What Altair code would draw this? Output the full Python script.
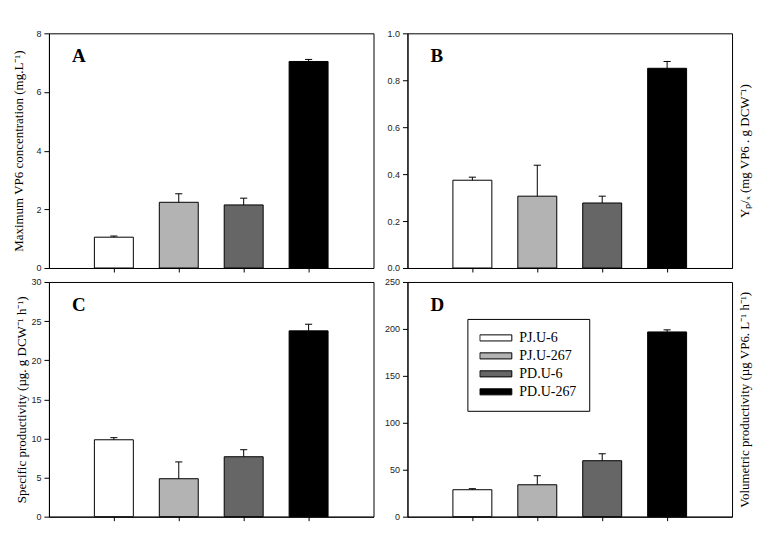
import altair as alt
import pandas as pd

strains = ["PJ.U-6", "PJ.U-267", "PD.U-6", "PD.U-267"]
colors = ["#ffffff", "#b3b3b3", "#666666", "#000000"]
positions = [1, 2, 3, 4]

conc_mean = [1.05, 2.24, 2.15, 7.04]
conc_err = [0.04, 0.29, 0.23, 0.07]
conc_ticks = [0, 2, 4, 6, 8]

ypx_mean = [0.374, 0.306, 0.277, 0.851]
ypx_err = [0.013, 0.132, 0.029, 0.029]
ypx_ticks = [0.0, 0.2, 0.4, 0.6, 0.8, 1.0]

spec_mean = [9.83, 4.85, 7.66, 23.75]
spec_err = [0.27, 2.15, 0.9, 0.85]
spec_ticks = [0, 5, 10, 15, 20, 25, 30]

vol_mean = [28.7, 34.0, 59.6, 196.8]
vol_err = [1.1, 9.6, 7.4, 2.2]
vol_ticks = [0, 50, 100, 150, 200, 250]

W, H = 325, 235


def panel(means, errs, ticks, letter, title, side, title_pad, show_legend=False, fmt=None):
    df = pd.DataFrame({"pos": positions, "strain": strains, "mean": means, "err": errs})
    base = alt.Chart(df).transform_calculate(
        xl="datum.pos - 0.3", xr="datum.pos + 0.3",
        hi="datum.mean + datum.err",
        cl="datum.pos - 0.055", cr="datum.pos + 0.055",
    )
    xscale = alt.Scale(domain=[0, 5], nice=False, zero=False)
    yscale = alt.Scale(domain=[ticks[0], ticks[-1]], nice=False)
    axis_kw = dict(values=ticks, grid=False, tickSize=5, labelPadding=3)
    if fmt:
        axis_kw["format"] = fmt
    if side == "left":
        yaxis = alt.Axis(title=title, titlePadding=title_pad, **axis_kw)
    else:
        yaxis = alt.Axis(title=None, **axis_kw)
    xaxis = alt.Axis(values=positions, labels=False, title=None, grid=False, tickSize=4)
    if show_legend:
        legend = alt.Legend(
            orient="none", legendX=60, legendY=37, title=None,
            symbolType="M-1,-0.19H1V0.19H-1Z", symbolSize=1024,
            symbolStrokeColor="black", symbolStrokeWidth=1, symbolOpacity=1,
            labelFont="Liberation Serif", labelFontSize=14, labelColor="black",
            strokeColor="black", fillColor="white", padding=12,
            clipHeight=14, rowPadding=4, labelOffset=7,
        )
    else:
        legend = None
    bars = base.mark_rect(stroke="black", strokeWidth=1).encode(
        x=alt.X("xl:Q", scale=xscale, axis=xaxis),
        x2="xr:Q",
        y=alt.Y("mean:Q", scale=yscale, axis=yaxis),
        y2=alt.datum(0),
        color=alt.Color("strain:N", scale=alt.Scale(domain=strains, range=colors), legend=legend),
    )
    if side == "right":
        raxis = alt.Axis(orient="right", title=title, labels=False, ticks=False, domain=False,
                         grid=False, titleAngle=270, titleBaseline="top", titlePadding=title_pad)
    else:
        raxis = None
    stem = base.mark_rule(color="black", strokeWidth=1).encode(
        x=alt.X("pos:Q", scale=xscale, axis=None),
        y=alt.Y("hi:Q", scale=yscale, axis=raxis),
        y2="mean:Q",
    )
    cap = base.mark_rule(color="black", strokeWidth=1).encode(
        x=alt.X("cl:Q", scale=xscale, axis=None),
        x2="cr:Q",
        y=alt.Y("hi:Q", scale=yscale, axis=None),
    )
    ch = alt.layer(bars, stem, cap).properties(
        width=W, height=H,
        title=alt.TitleParams(letter, anchor="start", frame="group", dx=23, dy=52, offset=0,
                              fontSize=19, font="Liberation Serif", fontWeight="bold",
                              baseline="alphabetic", color="black"),
    ).resolve_axis(y="independent", x="independent")
    return ch


pA = panel(conc_mean, conc_err, conc_ticks, "A", "Maximum VP6 concentration (mg.L⁻¹)", "left", 10)
pB = panel(ypx_mean, ypx_err, ypx_ticks, "B", "Yₚ/ₓ (mg VP6 . g DCW⁻¹)", "right", 6, fmt=".1f")
pC = panel(spec_mean, spec_err, spec_ticks, "C", "Specific productivity (µg. g DCW⁻¹ h⁻¹)", "left", 2)
pD = panel(vol_mean, vol_err, vol_ticks, "D", "Volumetric productivity (µg VP6. L⁻¹ h⁻¹)", "right", 6, show_legend=True)

chart = alt.concat(pA, pB, pC, pD, columns=2, spacing={"row": 14, "column": 34}, bounds="flush").resolve_scale(
    color="independent", y="independent", x="independent"
).properties(
    padding={"left": 4, "top": 20, "right": 5, "bottom": 5},
    background="white",
).configure(font="Liberation Serif").configure_view(
    stroke="black", strokeWidth=1
).configure_axis(
    labelFont="Liberation Sans", labelFontSize=9, labelColor="#222222",
    tickColor="black", domainColor="black", tickWidth=1, domainWidth=1,
    titleFont="Liberation Serif", titleFontSize=13, titleFontWeight="normal", titleColor="black",
)

chart.save("out.html", embed_options={"renderer": "svg", "actions": False})
